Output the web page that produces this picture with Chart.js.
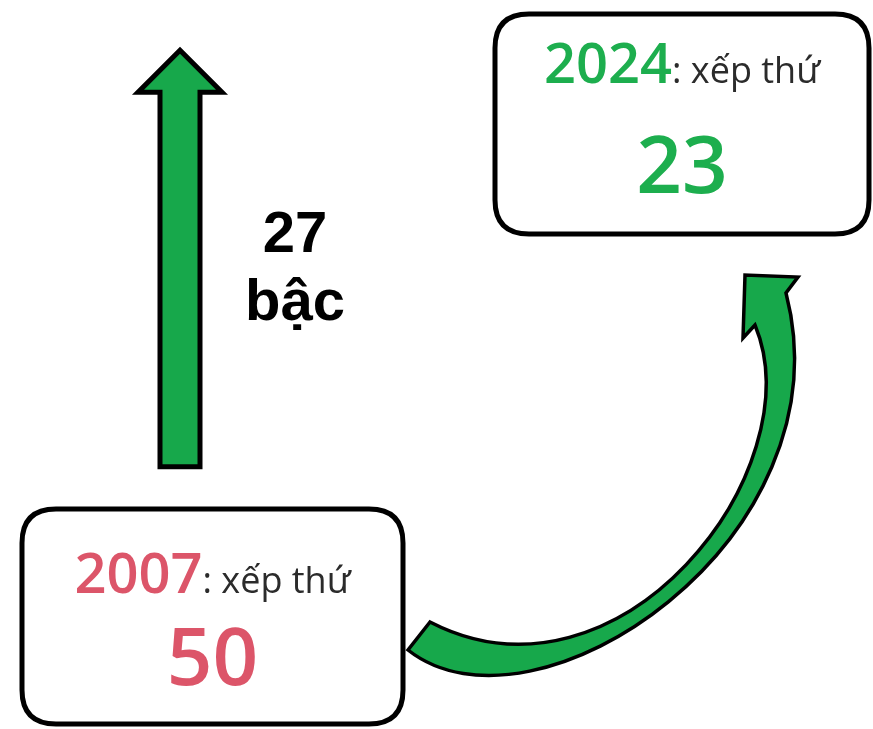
<!DOCTYPE html>
<html lang="vi">
<head>
<meta charset="utf-8">
<title>Thứ hạng 2007 - 2024</title>
<script src="https://cdn.jsdelivr.net/npm/chart.js@4.4.1/dist/chart.umd.min.js"></script>
<style>
    html, body {
        margin: 0;
        padding: 0;
        background: #ffffff;
    }
    #wrap {
        width: 873px;
        height: 729px;
        position: relative;
    }
</style>
</head>
<body>
<div id="wrap"><canvas id="rank-chart"></canvas></div>
<script>
// Data
const years = ['2007', '2024'];
const ranks = [50, 23];
const rankColors = ['#dc5569', '#1dae4e'];
const rankText = ': xếp thứ';
const stepText = 'bậc';

const arrowGreen = '#17a84b';

// Box layout (x, y, w, h and text baselines from box top)
const boxes = [
    { x: 22, y: 509, w: 381, h: 215, line1: 84, line2: 176 },
    { x: 495, y: 14, w: 374, h: 220, line1: 69, line2: 179 }
];

function roundRect(ctx, x, y, w, h, r) {
    ctx.beginPath();
    ctx.moveTo(x + r, y);
    ctx.lineTo(x + w - r, y);
    ctx.quadraticCurveTo(x + w, y, x + w, y + r);
    ctx.lineTo(x + w, y + h - r);
    ctx.quadraticCurveTo(x + w, y + h, x + w - r, y + h);
    ctx.lineTo(x + r, y + h);
    ctx.quadraticCurveTo(x, y + h, x, y + h - r);
    ctx.lineTo(x, y + r);
    ctx.quadraticCurveTo(x, y, x + r, y);
    ctx.closePath();
}

const infoPlugin = {
    id: 'infoPlugin',
    afterDraw(chart) {
        const ctx = chart.ctx;
        const yScale = chart.scales.y;
        const bar = chart.getDatasetMeta(0).data[0];
        ctx.save();

        // Straight arrow from old rank up to new rank
        const cx = bar.x;
        const yBase = yScale.getPixelForValue(ranks[0]);
        const yTip = yScale.getPixelForValue(ranks[1]);
        const shaft = 20, head = 42, headLen = 42;
        ctx.beginPath();
        ctx.moveTo(cx - shaft, yBase);
        ctx.lineTo(cx - shaft, yTip + headLen);
        ctx.lineTo(cx - head, yTip + headLen);
        ctx.lineTo(cx, yTip);
        ctx.lineTo(cx + head, yTip + headLen);
        ctx.lineTo(cx + shaft, yTip + headLen);
        ctx.lineTo(cx + shaft, yBase);
        ctx.closePath();
        ctx.fillStyle = arrowGreen;
        ctx.fill();
        ctx.lineWidth = 5;
        ctx.lineJoin = 'miter';
        ctx.strokeStyle = '#000000';
        ctx.stroke();

        // Step label
        const mid = (yBase + yTip) / 2;
        ctx.fillStyle = '#000000';
        ctx.textAlign = 'center';
        ctx.textBaseline = 'alphabetic';
        ctx.font = 'bold 58px "Liberation Sans", Arial, sans-serif';
        ctx.fillText(String(ranks[0] - ranks[1]), cx + 115, mid - 7);
        ctx.fillText(stepText, cx + 115, mid + 61);

        // Curved arrow from 2007 box to 2024 box
        ctx.beginPath();
        ctx.moveTo(430, 622);
        ctx.lineTo(408, 650);
        ctx.bezierCurveTo(535, 750, 850, 540, 786, 293);
        ctx.lineTo(798, 277);
        ctx.lineTo(745, 275);
        ctx.lineTo(743, 338);
        ctx.lineTo(755, 325);
        ctx.bezierCurveTo(815, 470, 620, 720, 430, 622);
        ctx.closePath();
        ctx.fillStyle = arrowGreen;
        ctx.fill();
        ctx.lineWidth = 3.5;
        ctx.stroke();

        // Rank boxes
        boxes.forEach((b, i) => {
            roundRect(ctx, b.x, b.y, b.w, b.h, 34);
            ctx.fillStyle = '#ffffff';
            ctx.fill();
            ctx.lineWidth = 5;
            ctx.strokeStyle = '#000000';
            ctx.stroke();

            const center = b.x + b.w / 2;
            const yearFont = '600 56px "Open Sans", sans-serif';
            const restFont = '400 36px "Open Sans", sans-serif';
            ctx.font = yearFont;
            const wYear = ctx.measureText(years[i]).width;
            ctx.font = restFont;
            const wRest = ctx.measureText(rankText).width;
            const left = center - (wYear + wRest) / 2;

            ctx.textAlign = 'left';
            ctx.font = yearFont;
            ctx.fillStyle = rankColors[i];
            ctx.fillText(years[i], left, b.y + b.line1);
            ctx.font = restFont;
            ctx.fillStyle = '#2b2b2b';
            ctx.fillText(rankText, left + wYear, b.y + b.line1);

            ctx.textAlign = 'center';
            ctx.font = '600 80px "Open Sans", sans-serif';
            ctx.fillStyle = rankColors[i];
            ctx.fillText(String(ranks[i]), center, b.y + b.line2);
        });

        ctx.restore();
    }
};

document.addEventListener('DOMContentLoaded', function() {
    const ctx = document.getElementById('rank-chart').getContext('2d');
    new Chart(ctx, {
        type: 'bar',
        data: {
            labels: [years[0] + ' - ' + years[1]],
            datasets: [{
                label: 'Thứ hạng',
                data: [[ranks[0], ranks[1]]],
                backgroundColor: 'rgba(0,0,0,0)',
                borderWidth: 0,
                barThickness: 40
            }]
        },
        options: {
            responsive: true,
            maintainAspectRatio: false,
            animation: false,
            layout: {
                padding: { top: 4, right: 513, bottom: 0, left: 0 }
            },
            plugins: {
                legend: { display: false },
                tooltip: { enabled: false }
            },
            scales: {
                x: { display: false },
                y: { display: false, reverse: true, min: 20, max: 67 }
            }
        },
        plugins: [infoPlugin]
    });
});
</script>
</body>
</html>
